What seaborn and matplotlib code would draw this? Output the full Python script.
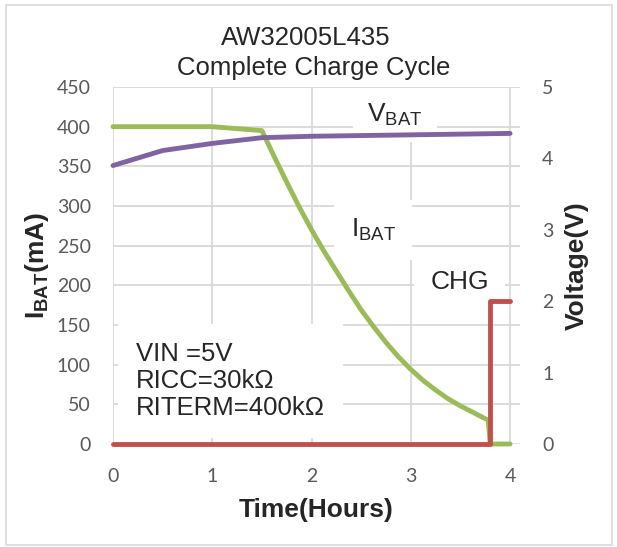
import matplotlib
matplotlib.use("Agg")
import matplotlib.pyplot as plt
import seaborn as sns
import pandas as pd
from matplotlib.patches import Rectangle

# 充電電流 IBAT (mA)
hours_i = [0, 0.5, 1, 1.5, 1.625, 1.75, 1.875, 2, 2.125, 2.25, 2.375, 2.5, 2.625, 2.75,
           2.875, 3, 3.125, 3.25, 3.375, 3.5, 3.625, 3.78, 3.8, 4]
ibat = [400, 400, 400, 395, 362, 330, 299, 270, 243, 218, 193, 169, 148, 128,
        110, 94, 80, 68, 57, 48, 40, 30, 0, 0]

# 電池電壓 VBAT (V)
hours_v = [0, 0.5, 1, 1.5, 2, 2.5, 3, 3.5, 4]
vbat = [3.9, 4.11, 4.21, 4.29, 4.31, 4.32, 4.33, 4.34, 4.35]

# CHG 腳位 (V)
hours_c = [0, 3.8, 3.8, 4]
chg = [0, 0, 2, 2]

x_ticks = [0, 1, 2, 3, 4]
y_ticks = [0, 50, 100, 150, 200, 250, 300, 350, 400, 450]
v_ticks = [0, 1, 2, 3, 4, 5]

sns.set_style("white")
plt.rcParams['font.family'] = ['Liberation Sans', 'DejaVu Sans']
plt.rcParams['mathtext.fontset'] = 'custom'
plt.rcParams['mathtext.rm'] = 'Liberation Sans'
plt.rcParams['mathtext.bf'] = 'Liberation Sans:bold'

green, purple, red = '#9BBB59', '#8064A2', '#C0504D'
grid_c, tick_c = '#D9D9D9', '#595959'

fig = plt.figure(figsize=(6.17, 5.47), dpi=100)
ax = fig.add_axes([113/617, 1-444/547, (520-113)/617, (444-87)/547])
ax2 = ax.twinx()

df_i = pd.DataFrame({'h': hours_i, 'v': ibat})
df_v = pd.DataFrame({'h': hours_v, 'v': vbat})
df_c = pd.DataFrame({'h': hours_c, 'v': chg})

sns.lineplot(data=df_i, x='h', y='v', ax=ax, color=green, lw=3.5, estimator=None,
             sort=False, solid_capstyle='round', solid_joinstyle='round', clip_on=False, zorder=3)
sns.lineplot(data=df_v, x='h', y='v', ax=ax2, color=purple, lw=3.5, estimator=None,
             sort=False, solid_capstyle='round', solid_joinstyle='round', clip_on=False, zorder=7)
sns.lineplot(data=df_c, x='h', y='v', ax=ax2, color=red, lw=3.5, estimator=None,
             sort=False, solid_capstyle='round', clip_on=False, zorder=6)

ax.set_xlim(0, 4.1)
ax.set_ylim(0, 450)
ax2.set_ylim(0, 5)
ax.set_xticks(x_ticks)
ax.set_yticks(y_ticks)
ax2.set_yticks(v_ticks)
ax.grid(True, color=grid_c, lw=1.3)
ax2.grid(False)
ax.set_axisbelow(True)
for a in (ax, ax2):
    for s in a.spines.values():
        s.set_visible(False)
ax.tick_params(axis='both', length=0, labelsize=14, labelcolor=tick_c)
ax.tick_params(axis='y', pad=16)
ax.tick_params(axis='x', pad=17)
ax2.tick_params(axis='y', length=0, labelsize=14, labelcolor=tick_c, pad=16)
for lab in ax.get_xticklabels() + ax.get_yticklabels() + ax2.get_yticklabels():
    lab.set_family(['Lato', 'DejaVu Sans'])

ax.set_xlabel('Time(Hours)', fontsize=19, fontweight='bold', labelpad=10)
ax.set_ylabel(r'I$_{\mathregular{BAT}}$(mA)', fontsize=19, fontweight='bold', labelpad=4)
ax2.set_ylabel('Voltage(V)', fontsize=19, fontweight='bold', labelpad=8)

fig.text(306/617, 1-38/547, 'AW32005L435', ha='center', va='center', fontsize=18.5)
fig.text(314/617, 1-68/547, 'Complete Charge Cycle', ha='center', va='center', fontsize=18.5)

ax2.text(2.84, 4.61, r'V$_{\mathregular{BAT}}$', ha='center', va='center', fontsize=19,
         bbox=dict(facecolor='white', edgecolor='none', pad=10), zorder=5)
ax2.text(2.62, 3.0, r'I$_{\mathregular{BAT}}$', ha='center', va='center', fontsize=19,
         bbox=dict(facecolor='white', edgecolor='none', pad=12), zorder=5)
ax2.text(3.49, 2.27, 'CHG', ha='center', va='center', fontsize=19,
         bbox=dict(facecolor='white', edgecolor='none', pad=12), zorder=5)
ax2.text(0.23, 0.88, 'VIN =5V\nRICC=30k\u03a9\nRITERM=400k\u03a9', ha='left', va='center',
         fontsize=18.5, linespacing=1.15,
         bbox=dict(facecolor='white', edgecolor='none', pad=13), zorder=5)

fig.patches.append(Rectangle((6/617, 2/547), 606/617, 540/547, transform=fig.transFigure,
                             fill=False, edgecolor=grid_c, lw=1.2))

fig.savefig('out.png', dpi=100)
